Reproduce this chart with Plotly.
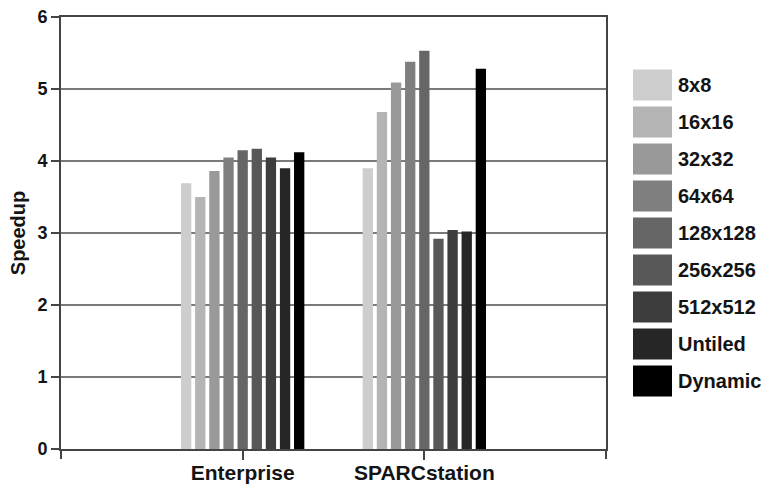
import plotly.graph_objects as go

categories = ["Enterprise", "SPARCstation"]
series_names = ["8x8", "16x16", "32x32", "64x64", "128x128", "256x256", "512x512", "Untiled", "Dynamic"]
enterprise = [3.69, 3.50, 3.86, 4.05, 4.15, 4.17, 4.05, 3.90, 4.12]
sparcstation = [3.90, 4.68, 5.09, 5.38, 5.53, 2.92, 3.04, 3.02, 5.28]
colors = ["#cdcdcd", "#b4b4b4", "#999999", "#7f7f7f", "#666666", "#585858", "#3d3d3d", "#262626", "#000000"]
y_ticks = [0, 1, 2, 3, 4, 5, 6]

FONT = "Liberation Sans, Arial, sans-serif"
TXT = "#141414"

fig = go.Figure()
for i, name in enumerate(series_names):
    fig.add_trace(go.Bar(
        x=categories,
        y=[enterprise[i], sparcstation[i]],
        name=name,
        marker=dict(color=colors[i], line=dict(width=0)),
        showlegend=False,
    ))

W, H = 769, 489
L, R, T, B = 61, 163, 17, 40
pw, ph = W - L - R, H - T - B

# legend swatches and labels (drawn large like the original)
for i, name in enumerate(series_names):
    cy = 85 + 37 * i
    fig.add_shape(type="rect", xref="paper", yref="paper",
                  x0=(633 - L) / pw, x1=(672 - L) / pw,
                  y0=(H - B - (cy + 15.5)) / ph, y1=(H - B - (cy - 15.5)) / ph,
                  fillcolor=colors[i], line=dict(width=0), layer="above")
    fig.add_annotation(xref="paper", yref="paper",
                       x=(676 - L) / pw, y=(H - B - cy) / ph,
                       text=name, showarrow=False, xanchor="left", yanchor="middle",
                       font=dict(family=FONT, size=20, color=TXT, weight="bold"))

# end ticks extending below the x axis at both frame edges
for xp in (0, 1):
    fig.add_shape(type="line", xref="paper", yref="paper",
                  x0=xp, x1=xp, y0=0, y1=-10 / ph,
                  line=dict(color="#444", width=2))

fig.update_layout(
    width=W, height=H,
    margin=dict(l=L, r=R, t=T, b=B, autoexpand=False),
    paper_bgcolor="white", plot_bgcolor="white",
    barmode="group", bargap=0.30, bargroupgap=0.27,
    font=dict(family=FONT, size=14, color=TXT),
    xaxis=dict(
        type="category", range=[-1, 2], automargin=False,
        showline=True, linecolor="#444", linewidth=2, mirror=True,
        ticks="outside", ticklen=9, tickwidth=1.5, tickcolor="#444",
        ticklabelstandoff=-5,
        showgrid=False,
        tickfont=dict(family=FONT, size=21, color=TXT, weight="bold"),
    ),
    yaxis=dict(
        range=[0, 6], tickvals=y_ticks, automargin=False,
        showline=True, linecolor="#444", linewidth=2, mirror=True,
        ticks="outside", ticklen=8, tickwidth=1.5, tickcolor="#444",
        showgrid=True, gridcolor="#7a7a7a", gridwidth=1.5,
        zeroline=False,
        tickfont=dict(family=FONT, size=18, color=TXT, weight="bold"),
        title=dict(text="Speedup", standoff=6,
                   font=dict(family=FONT, size=20, color=TXT, weight="bold")),
    ),
)

fig.write_html("out.html", config={"displayModeBar": False},
               post_script="document.body.style.margin='0';document.body.style.overflow='hidden';")
